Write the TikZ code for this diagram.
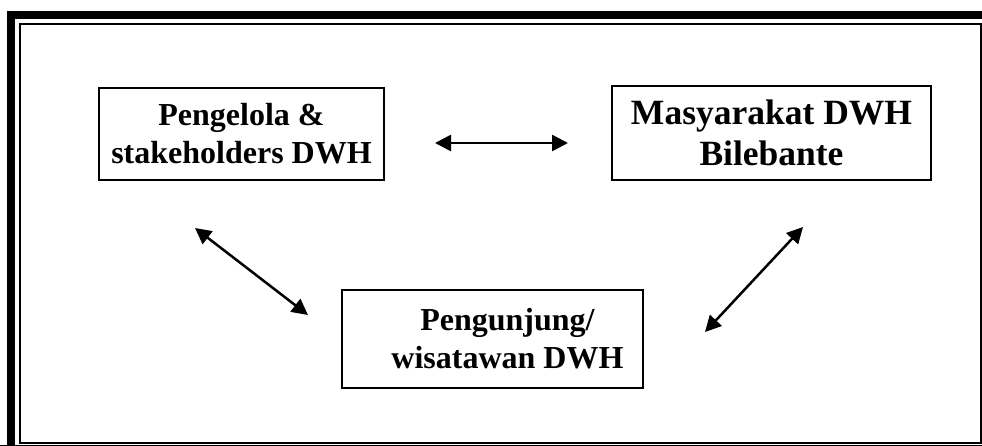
\documentclass[tikz,border=0pt]{standalone}
\usepackage{fontspec}
\setmainfont{Liberation Serif}
\usetikzlibrary{arrows.meta}
\tikzset{
  partybox/.style={draw, line width=2pt, align=center, font=\bfseries, inner sep=0pt},
  linkarrow/.style={{Triangle[length=16pt,width=16pt]}-{Triangle[length=16pt,width=16pt]}, line width=2.5pt}
}
\begin{document}
\begin{tikzpicture}[x=1pt,y=-1pt]
    \useasboundingbox (0,0) rectangle (982,446);
    % frame
    \path[draw, line width=8pt] (11,460) -- (11,15) -- (1000,15);
    \path[draw, line width=4pt] (0,447) -- (1000,447);
    \path[draw, line width=2.5pt] (20,443) -- (20,24) -- (981,24) -- (981,443) -- cycle;

    \node[partybox, minimum width=285pt, minimum height=92pt, font=\bfseries\fontsize{32}{38}\selectfont]
      (pengelola) at (241.5,134) {Pengelola \&\\stakeholders DWH};
    \node[partybox, minimum width=319pt, minimum height=94pt, font=\bfseries\fontsize{35.5}{41}\selectfont]
      (masyarakat) at (771.5,133) {Masyarakat DWH\\Bilebante};
    \node[partybox, minimum width=301pt, minimum height=98pt, font=\bfseries\fontsize{32}{38}\selectfont]
      (pengunjung) at (492.5,339) {\hspace*{30pt}Pengunjung/\\\hspace*{30pt}wisatawan DWH};

    \coordinate (topL) at (435,143);
    \coordinate (topR) at (568,143);
    \coordinate (leftA) at (195,228);
    \coordinate (leftB) at (308,315);
    \coordinate (rightA) at (803,227);
    \coordinate (rightB) at (705,332);
    \path[draw, linkarrow] (topL) -- (topR);
    \path[draw, linkarrow] (leftA) -- (leftB);
    \path[draw, linkarrow] (rightA) -- (rightB);
  \end{tikzpicture}
\end{document}
